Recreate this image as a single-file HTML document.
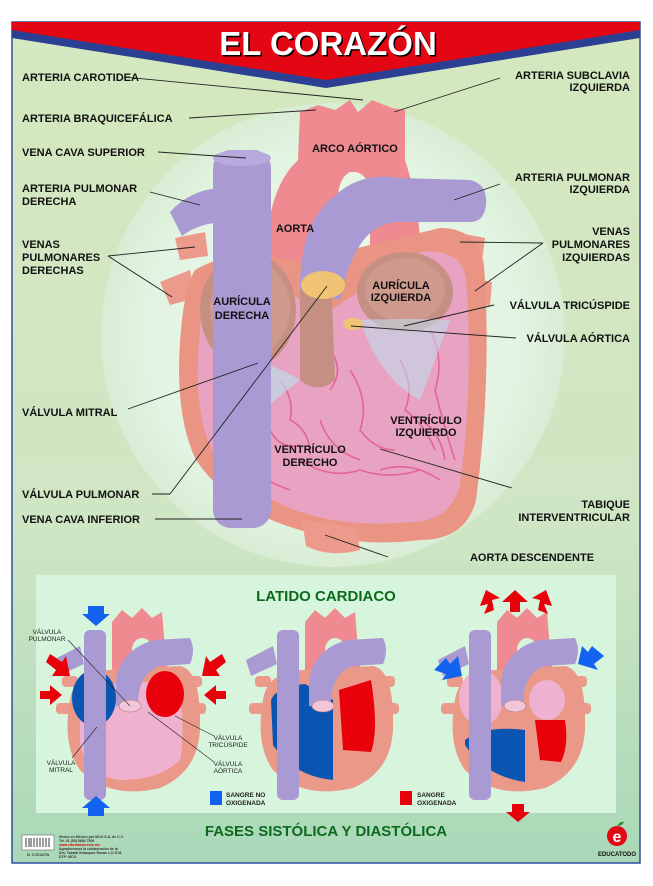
<!DOCTYPE html>
<html><head><meta charset="utf-8">
<style>
html,body{margin:0;padding:0;background:#fff;}
svg{display:block;}
text{font-family:"Liberation Sans",sans-serif;font-weight:bold;}
.l{font-size:11px;fill:#111;}
.s{font-size:6.5px;fill:#222;font-weight:normal;}
line,polyline{stroke:#222;stroke-width:0.9;fill:none;}
</style></head><body>
<svg width="653" height="886" viewBox="0 0 653 886" xmlns="http://www.w3.org/2000/svg">
<defs>
<linearGradient id="bg" x1="0" y1="0" x2="0" y2="1">
<stop offset="0" stop-color="#d5e8bf"/><stop offset="0.6" stop-color="#cfe6c4"/><stop offset="1" stop-color="#a9d8b8"/>
</linearGradient>
<radialGradient id="glow" cx="0.5" cy="0.5" r="0.5">
<stop offset="0" stop-color="#eef9ee"/><stop offset="0.8" stop-color="#e2f4e2"/><stop offset="1" stop-color="#d8edd4"/>
</radialGradient>
</defs>

<rect x="12" y="22" width="628" height="841" fill="url(#bg)" stroke="#2f4f9a" stroke-width="1.5"/>
<circle cx="333" cy="335" r="232" fill="url(#glow)"/>

<polygon points="12,22 640,22 640,38 326,88 12,38" fill="#2b3f93"/>
<polygon points="12,22 640,22 640,30 326,80 12,30" fill="#e30613"/>
<text x="328" y="55" text-anchor="middle" style="font-size:33px;fill:#000;" transform="translate(1.5,1.5)">EL CORAZÓN</text>
<text x="328" y="55" text-anchor="middle" style="font-size:33px;fill:#fff;">EL CORAZÓN</text>

<!-- MAIN HEART -->
<path d="M175 238 L205 232 L208 256 L180 260Z" fill="#ec9a8c"/>
<path d="M160 282 L190 270 L196 298 L170 305Z" fill="#ec9a8c"/>
<path d="M455 232 L485 238 L482 262 L452 256Z" fill="#ec9a8c"/>
<path d="M470 278 L492 282 L490 306 L464 302Z" fill="#ec9a8c"/>
<path d="M170 212 Q190 190 220 188 L228 222 Q200 222 182 236Z" fill="#a99ad4"/>
<path d="M266 262 Q266 190 298 160 L300 112 L318 105 L335 110 L350 100 L358 112 L372 100 L392 108 L405 110 L405 160 Q418 200 420 240 L370 250 L370 190 Q366 170 350 172 Q338 178 338 200 L330 270Z" fill="#ef8a90"/>
<ellipse cx="354" cy="190" rx="14" ry="18" fill="#e6f5e4"/>
<path d="M195 270 Q230 250 268 256 L300 262 L440 228 Q478 228 484 265 Q492 380 476 500 Q466 540 420 540 Q360 548 300 530 Q230 510 196 460 Q172 410 182 320 Q186 285 195 270Z" fill="#ea9484"/>
<path d="M210 285 Q240 270 270 276 L300 300 L300 330 L420 252 Q462 248 466 280 Q474 380 460 485 Q450 522 410 522 Q350 528 300 512 Q240 490 212 450 Q192 410 200 330 Q202 298 210 285Z" fill="#e9a3c2"/>
<g stroke="#e0508a" stroke-width="1.6" fill="none" opacity="0.75">
<path d="M215 360 q10 20 5 40 q10 25 25 35 M240 420 q20 -10 30 10 q10 20 30 15 M280 380 q15 20 10 40 q20 10 20 35 M320 420 q10 30 40 40 M350 370 q20 30 10 60 q15 20 35 20 M400 360 q15 25 5 50 q20 15 30 40 M430 330 q15 30 5 60 q10 40 20 70 M300 460 q30 20 60 10 q30 10 60 0 M240 460 q20 20 50 30 M380 470 q30 -10 60 10 M330 350 q15 20 0 40 M420 420 q20 10 25 40"/>
</g>
<ellipse cx="248" cy="310" rx="48" ry="58" fill="#c58f84"/>
<ellipse cx="250" cy="308" rx="40" ry="48" fill="#cf9a8e"/>
<path d="M300 280 Q330 270 332 300 L335 380 Q318 395 300 380Z" fill="#c58f84"/>
<ellipse cx="405" cy="292" rx="48" ry="40" fill="#c58f84"/>
<ellipse cx="405" cy="290" rx="40" ry="32" fill="#cf9a8e"/>
<path d="M215 360 Q260 355 300 380 L250 420 Q220 400 215 360Z" fill="#bfdce9" opacity="0.7"/>
<path d="M360 320 Q410 318 450 320 L420 400 Q380 380 360 320Z" fill="#bfdce9" opacity="0.6"/>
<rect x="213" y="150" width="58" height="378" rx="18" fill="#a99ad4"/>
<ellipse cx="242" cy="158" rx="29" ry="8" fill="#b8aadf"/>
<path d="M300 290 Q300 220 336 195 Q360 172 400 178 L470 180 Q488 184 486 205 Q484 222 470 222 L400 222 Q375 222 360 245 Q345 270 340 300Z" fill="#a99ad4"/>
<ellipse cx="323" cy="285" rx="22" ry="14" fill="#f0c474"/>
<ellipse cx="353" cy="324" rx="10" ry="6" fill="#f0c474"/>
<path d="M302 520 L356 528 L360 550 Q330 558 306 546Z" fill="#ec9a8c"/>

<text class="l" x="355" y="152" text-anchor="middle">ARCO AÓRTICO</text>
<text class="l" x="295" y="232" text-anchor="middle">AORTA</text>
<text class="l" x="242" y="305" text-anchor="middle">AURÍCULA</text>
<text class="l" x="242" y="319" text-anchor="middle">DERECHA</text>
<text class="l" x="401" y="289" text-anchor="middle">AURÍCULA</text>
<text class="l" x="401" y="301" text-anchor="middle">IZQUIERDA</text>
<text class="l" x="310" y="453" text-anchor="middle">VENTRÍCULO</text>
<text class="l" x="310" y="466" text-anchor="middle">DERECHO</text>
<text class="l" x="426" y="424" text-anchor="middle">VENTRÍCULO</text>
<text class="l" x="426" y="436" text-anchor="middle">IZQUIERDO</text>

<text class="l" x="22" y="81">ARTERIA CAROTIDEA</text>
<line x1="124" y1="77" x2="363" y2="100"/>
<text class="l" x="22" y="122">ARTERIA BRAQUICEFÁLICA</text>
<line x1="189" y1="118" x2="316" y2="110"/>
<text class="l" x="22" y="156">VENA CAVA SUPERIOR</text>
<line x1="158" y1="152" x2="246" y2="158"/>
<text class="l" x="22" y="192">ARTERIA PULMONAR</text>
<text class="l" x="22" y="205">DERECHA</text>
<line x1="150" y1="192" x2="200" y2="205"/>
<text class="l" x="22" y="248">VENAS</text>
<text class="l" x="22" y="261">PULMONARES</text>
<text class="l" x="22" y="274">DERECHAS</text>
<line x1="108" y1="256" x2="195" y2="247"/>
<line x1="108" y1="256" x2="172" y2="297"/>
<text class="l" x="22" y="416">VÁLVULA MITRAL</text>
<line x1="128" y1="409" x2="258" y2="363"/>
<text class="l" x="22" y="498">VÁLVULA PULMONAR</text>
<line x1="152" y1="494" x2="170" y2="494"/>
<line x1="170" y1="494" x2="327" y2="286"/>
<text class="l" x="22" y="523">VENA CAVA INFERIOR</text>
<line x1="155" y1="519" x2="242" y2="519"/>

<text class="l" x="630" y="79" text-anchor="end">ARTERIA SUBCLAVIA</text>
<text class="l" x="630" y="91" text-anchor="end">IZQUIERDA</text>
<line x1="500" y1="78" x2="394" y2="112"/>
<text class="l" x="630" y="181" text-anchor="end">ARTERIA PULMONAR</text>
<text class="l" x="630" y="193" text-anchor="end">IZQUIERDA</text>
<line x1="500" y1="184" x2="454" y2="200"/>
<text class="l" x="630" y="235" text-anchor="end">VENAS</text>
<text class="l" x="630" y="248" text-anchor="end">PULMONARES</text>
<text class="l" x="630" y="261" text-anchor="end">IZQUIERDAS</text>
<line x1="543" y1="243" x2="460" y2="242"/>
<line x1="543" y1="243" x2="475" y2="291"/>
<text class="l" x="630" y="309" text-anchor="end">VÁLVULA TRICÚSPIDE</text>
<line x1="494" y1="305" x2="404" y2="326"/>
<text class="l" x="630" y="342" text-anchor="end">VÁLVULA AÓRTICA</text>
<line x1="516" y1="338" x2="351" y2="326"/>
<text class="l" x="630" y="508" text-anchor="end">TABIQUE</text>
<text class="l" x="630" y="521" text-anchor="end">INTERVENTRICULAR</text>
<line x1="512" y1="488" x2="380" y2="449"/>
<text class="l" x="532" y="561" text-anchor="middle">AORTA DESCENDENTE</text>
<line x1="388" y1="557" x2="325" y2="535"/>

<!-- bottom panel -->
<rect x="36" y="575" width="580" height="238" fill="#d7f5dc"/>
<text x="326" y="601" text-anchor="middle" style="font-size:15px;fill:#0c6a1c;">LATIDO CARDIACO</text>

<g>
<path d="M53 660 L80 646 L84 664 L58 676Z" fill="#a99ad4"/>
<rect x="62" y="676" width="16" height="11" rx="4" fill="#ec9a8c"/>
<rect x="56" y="703" width="16" height="11" rx="4" fill="#ec9a8c"/>
<rect x="186" y="676" width="16" height="11" rx="4" fill="#ec9a8c"/>
<rect x="190" y="703" width="16" height="11" rx="4" fill="#ec9a8c"/>
<path d="M112 700 L112 622 L122 610 L132 618 L142 608 L152 618 L162 612 L166 660 L172 690 L150 700Z" fill="#ef8a90"/>
<ellipse cx="142" cy="650" rx="10" ry="12" fill="#d7f5dc"/>
<path d="M70 700 Q74 672 110 670 L180 666 Q200 670 200 720 Q202 770 160 788 Q110 800 80 770 Q62 745 70 700Z" fill="#ea9888"/>
<path d="M80 710 Q86 686 112 684 L178 680 Q186 730 180 760 Q160 780 120 780 Q88 776 80 745Z" fill="#eeb1d0"/>
<ellipse cx="94" cy="698" rx="22" ry="28" fill="#0a54b2"/>
<ellipse cx="165" cy="694" rx="19" ry="23" fill="#e8000a"/>
<rect x="84" y="630" width="22" height="170" rx="6" fill="#a99ad4"/>
<path d="M116 706 L116 680 Q122 648 155 640 L190 638 Q196 650 190 664 L160 666 Q140 672 138 700 L136 708Z" fill="#a99ad4"/>
<ellipse cx="130" cy="706" rx="11" ry="6" fill="#f2c6d8" stroke="#b77" stroke-width="0.6"/>
</g>
<g transform="translate(193,0)">
<path d="M53 660 L80 646 L84 664 L58 676Z" fill="#a99ad4"/>
<rect x="62" y="676" width="16" height="11" rx="4" fill="#ec9a8c"/>
<rect x="56" y="703" width="16" height="11" rx="4" fill="#ec9a8c"/>
<rect x="186" y="676" width="16" height="11" rx="4" fill="#ec9a8c"/>
<rect x="190" y="703" width="16" height="11" rx="4" fill="#ec9a8c"/>
<path d="M112 700 L112 622 L122 610 L132 618 L142 608 L152 618 L162 612 L166 660 L172 690 L150 700Z" fill="#ef8a90"/>
<ellipse cx="142" cy="650" rx="10" ry="12" fill="#d7f5dc"/>
<path d="M70 700 Q74 672 110 670 L180 666 Q200 670 200 720 Q202 770 160 788 Q110 800 80 770 Q62 745 70 700Z" fill="#ea9888"/>
<path d="M78 700 Q84 686 112 684 L140 700 L140 780 Q100 776 80 745Z" fill="#0a54b2"/>
<path d="M146 690 L178 680 Q186 730 178 752 L150 750Z" fill="#e8000a"/>
<rect x="84" y="630" width="22" height="170" rx="6" fill="#a99ad4"/>
<path d="M116 706 L116 680 Q122 648 155 640 L190 638 Q196 650 190 664 L160 666 Q140 672 138 700 L136 708Z" fill="#a99ad4"/>
<ellipse cx="130" cy="706" rx="11" ry="6" fill="#f2c6d8" stroke="#b77" stroke-width="0.6"/>
</g>
<g transform="translate(385,0)">
<path d="M53 660 L80 646 L84 664 L58 676Z" fill="#a99ad4"/>
<rect x="62" y="676" width="16" height="11" rx="4" fill="#ec9a8c"/>
<rect x="56" y="703" width="16" height="11" rx="4" fill="#ec9a8c"/>
<rect x="186" y="676" width="16" height="11" rx="4" fill="#ec9a8c"/>
<rect x="190" y="703" width="16" height="11" rx="4" fill="#ec9a8c"/>
<path d="M112 700 L112 622 L122 610 L132 618 L142 608 L152 618 L162 612 L166 660 L172 690 L150 700Z" fill="#ef8a90"/>
<ellipse cx="142" cy="650" rx="10" ry="12" fill="#d7f5dc"/>
<path d="M70 700 Q74 672 110 670 L180 666 Q200 670 200 720 Q202 770 160 788 Q110 800 80 770 Q62 745 70 700Z" fill="#ea9888"/>
<path d="M80 740 Q100 725 140 730 L140 782 Q100 776 80 745Z" fill="#0a54b2"/>
<ellipse cx="96" cy="698" rx="22" ry="28" fill="#eeb1d0"/>
<ellipse cx="162" cy="700" rx="18" ry="20" fill="#eeb1d0"/>
<path d="M150 720 L180 720 Q184 745 176 762 L155 760Z" fill="#e8000a"/>
<rect x="84" y="630" width="22" height="170" rx="6" fill="#a99ad4"/>
<path d="M116 706 L116 680 Q122 648 155 640 L190 638 Q196 650 190 664 L160 666 Q140 672 138 700 L136 708Z" fill="#a99ad4"/>
<ellipse cx="130" cy="706" rx="11" ry="6" fill="#f2c6d8" stroke="#b77" stroke-width="0.6"/>
</g>

<g fill="#1463f0">
<polygon points="88,606 104,606 104,614 110,614 96,626 82,614 88,614"/>
<polygon points="88,816 104,816 104,808 110,808 96,796 82,808 88,808"/>
<polygon points="434,670 446,658 450,664 458,656 462,676 442,680 446,674"/>
<polygon points="604,656 592,646 588,652 582,646 578,664 598,670 594,664"/>
</g>
<g fill="#e8000a">
<polygon points="50,654 62,662 66,656 70,676 52,676 56,670 46,662"/>
<polygon points="40,691 50,691 50,685 62,695 50,705 50,699 40,699"/>
<polygon points="222,654 210,662 206,656 202,676 220,676 216,670 226,662"/>
<polygon points="226,691 216,691 216,685 204,695 216,705 216,699 226,699"/>
<polygon points="510,612 520,612 520,602 528,602 515,590 502,602 510,602"/>
<polygon points="484,614 494,610 492,600 500,598 486,590 480,606 488,604"/>
<polygon points="548,614 538,610 540,600 532,598 546,590 552,606 544,604"/>
<polygon points="512,804 524,804 524,812 530,812 518,822 506,812 512,812"/>
</g>

<text class="s" x="47" y="634" text-anchor="middle">VÁLVULA</text>
<text class="s" x="47" y="641" text-anchor="middle">PULMONAR</text>
<line x1="68" y1="640" x2="130" y2="706" style="stroke-width:0.6"/>
<text class="s" x="61" y="765" text-anchor="middle">VÁLVULA</text>
<text class="s" x="61" y="772" text-anchor="middle">MITRAL</text>
<line x1="72" y1="758" x2="97" y2="727" style="stroke-width:0.6"/>
<text class="s" x="228" y="740" text-anchor="middle">VÁLVULA</text>
<text class="s" x="228" y="747" text-anchor="middle">TRICÚSPIDE</text>
<line x1="214" y1="736" x2="175" y2="716" style="stroke-width:0.6"/>
<text class="s" x="228" y="766" text-anchor="middle">VÁLVULA</text>
<text class="s" x="228" y="773" text-anchor="middle">AÓRTICA</text>
<line x1="214" y1="762" x2="148" y2="712" style="stroke-width:0.6"/>

<rect x="210" y="791" width="12" height="14" fill="#1463f0"/>
<text class="s" x="226" y="797" style="font-weight:bold;">SANGRE NO</text>
<text class="s" x="226" y="805" style="font-weight:bold;">OXIGENADA</text>
<rect x="400" y="791" width="12" height="14" fill="#e8000a"/>
<text class="s" x="417" y="797" style="font-weight:bold;">SANGRE</text>
<text class="s" x="417" y="805" style="font-weight:bold;">OXIGENADA</text>

<text x="326" y="836" text-anchor="middle" style="font-size:15px;fill:#0c6a1c;">FASES SISTÓLICA Y DIASTÓLICA</text>

<rect x="22" y="835" width="32" height="15" fill="#fff" stroke="#666" stroke-width="0.6"/>
<g stroke="#111" stroke-width="1"><line x1="26" y1="838" x2="26" y2="847"/><line x1="29" y1="838" x2="29" y2="847"/><line x1="31" y1="838" x2="31" y2="847"/><line x1="34" y1="838" x2="34" y2="847"/><line x1="37" y1="838" x2="37" y2="847"/><line x1="40" y1="838" x2="40" y2="847"/><line x1="43" y1="838" x2="43" y2="847"/><line x1="46" y1="838" x2="46" y2="847"/><line x1="49" y1="838" x2="49" y2="847"/></g>
<text x="38" y="856" text-anchor="middle" style="font-size:3.5px;font-weight:normal;">EL CORAZÓN</text>
<g style="font-size:3.5px;font-weight:normal;fill:#333">
<text x="59" y="838">Hecho en México por MCG S.A. de C.V.</text>
<text x="59" y="842">Tel. 01 (55) 5684 7500</text>
<text x="59" y="846" fill="#d00">www.educatodo.com.mx</text>
<text x="59" y="850">Agradecemos la colaboración de la</text>
<text x="59" y="854">Dra. Tabata Velazquez Rosas L.D.G.M.</text>
<text x="59" y="858">DTP: MCG</text>
</g>
<circle cx="617" cy="836" r="10" fill="#e30613"/>
<text x="617" y="842" text-anchor="middle" style="font-size:16px;fill:#fff;">e</text>
<path d="M617 826 q3 -5 7 -4 q-2 4 -7 4z" fill="#2a8a2a"/>
<text x="617" y="856" text-anchor="middle" style="font-size:6px;fill:#111;">EDUCATODO</text>
</svg>
</body></html>
